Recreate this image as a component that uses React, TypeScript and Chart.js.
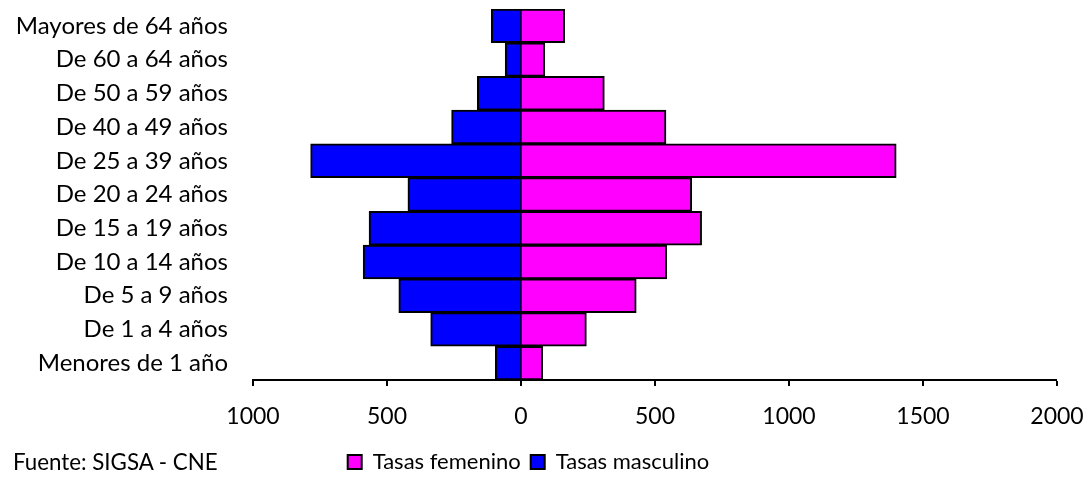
import React, { useEffect, useRef } from 'react';
import { Chart, registerables } from 'chart.js';

Chart.register(...registerables);

const categories = [
  'Mayores de 64 años',
  'De 60 a 64 años',
  'De 50 a 59 años',
  'De 40 a 49 años',
  'De 25 a 39 años',
  'De 20 a 24 años',
  'De 15 a 19 años',
  'De 10 a 14 años',
  'De 5 a 9 años',
  'De 1 a 4 años',
  'Menores de 1 año',
];

const femaleRates = [163, 89, 311, 541, 1400, 637, 674, 544, 430, 244, 81];
const maleRates = [111, 59, 163, 259, 785, 422, 567, 589, 456, 337, 96];

const seriesNames = ['Tasas femenino', 'Tasas masculino'];
const xMin = -1000;
const xMax = 2000;
const xStep = 500;
const sourceNote = 'Fuente: SIGSA - CNE';

export default function App() {
  const ref = useRef<HTMLCanvasElement>(null);

  useEffect(() => {
    document.body.style.margin = '0';
    Chart.defaults.font.family = 'Lato';
    Chart.defaults.color = '#000';
    const chart = new Chart(ref.current!, {
      type: 'bar',
      data: {
        labels: categories,
        datasets: [
          {
            label: seriesNames[0],
            data: femaleRates,
            backgroundColor: '#FF00FF',
            borderColor: '#000',
            borderWidth: { left: 1, right: 2, top: 2, bottom: 2 },
            borderSkipped: false,
            barPercentage: 1,
            categoryPercentage: 1,
          },
          {
            label: seriesNames[1],
            data: maleRates.map((v) => -v),
            backgroundColor: '#0000FF',
            borderColor: '#000',
            borderWidth: { left: 2, right: 1, top: 2, bottom: 2 },
            borderSkipped: false,
            barPercentage: 1,
            categoryPercentage: 1,
          },
        ],
      },
      options: {
        indexAxis: 'y',
        responsive: false,
        animation: false,
        layout: { padding: { top: 9, right: 35, bottom: 0, left: 0 } },
        plugins: {
          tooltip: { enabled: false },
          legend: {
            position: 'bottom',
            labels: {
              boxWidth: 14,
              boxHeight: 14,
              padding: 10,
              font: { size: 22, family: 'Lato' },
              color: '#000',
              generateLabels: (c: any) =>
                c.data.datasets.map((ds: any, i: number) => ({
                  text: ds.label,
                  fillStyle: ds.backgroundColor,
                  strokeStyle: '#000',
                  lineWidth: 2,
                  hidden: false,
                  datasetIndex: i,
                  fontColor: '#000',
                })),
            },
          },
        },
        scales: {
          x: {
            stacked: true,
            min: xMin,
            max: xMax,
            ticks: {
              stepSize: xStep,
              padding: 17,
              font: { size: 23, family: 'Lato' },
              color: '#000',
              callback: (v: any) => String(Math.abs(Number(v))),
            },
            grid: {
              display: true,
              drawOnChartArea: false,
              drawTicks: true,
              tickLength: 6,
              lineWidth: 0,
              tickWidth: 2,
              tickColor: '#000',
              color: '#000',
            },
            border: { display: true, color: '#000', width: 2 },
            afterFit: (scale: any) => {
              scale.height = 61;
              scale.paddingRight = 0;
              scale.paddingLeft = 0;
            },
          },
          y: {
            stacked: true,
            ticks: {
              padding: 25,
              font: { size: 24, family: 'Lato' },
              color: '#000',
            },
            grid: { display: false, drawTicks: false },
            border: { display: false },
            afterFit: (scale: any) => {
              scale.width = 253;
              scale.paddingTop = 0;
              scale.paddingBottom = 0;
            },
          },
        },
      },
    });
    return () => chart.destroy();
  }, []);

  return (
    <div style={{ position: 'relative', width: 1092, height: 483, background: '#fff' }}>
      <canvas ref={ref} width={1092} height={483} style={{ display: 'block' }} />
      <div
        style={{
          position: 'absolute',
          left: 13,
          top: 448,
          font: '22.3px Lato',
          color: '#000',
          whiteSpace: 'nowrap',
        }}
      >
        {sourceNote}
      </div>
    </div>
  );
}
